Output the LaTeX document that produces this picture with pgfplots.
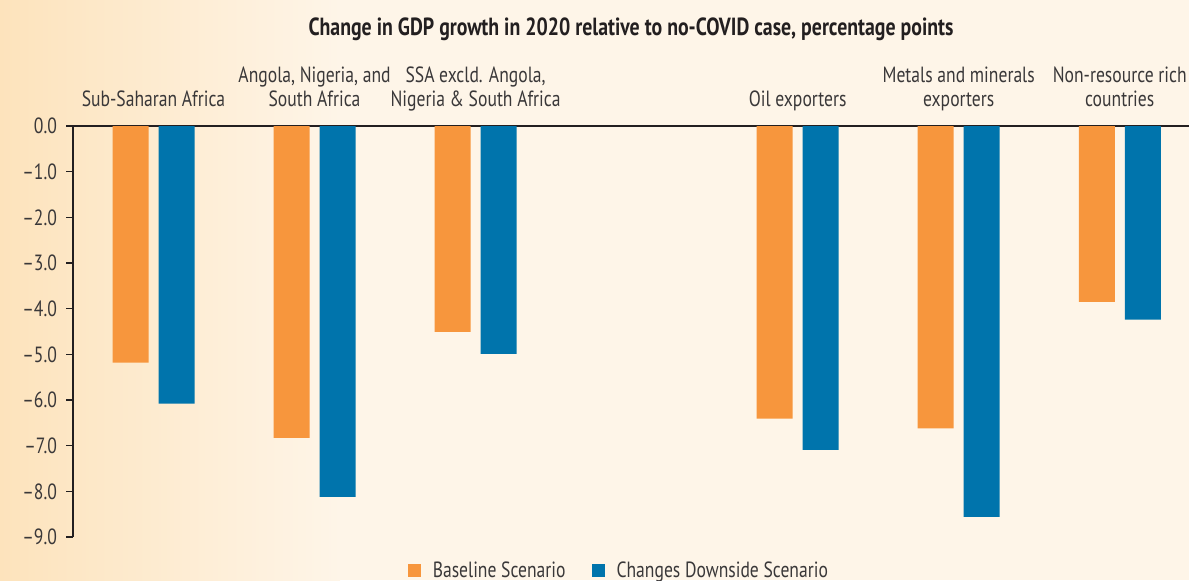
\documentclass[border=0pt]{standalone}
\usepackage{pgfplots}
\pgfplotsset{compat=1.18}
\usepackage{fontspec}
\setmainfont[FakeStretch=0.8]{PT Sans}

\definecolor{baseorange}{HTML}{F7963D}
\definecolor{downblue}{HTML}{0074AC}
\definecolor{bgcream}{HTML}{FEF5E8}
\definecolor{bgpeach}{HTML}{FDE3BC}
\definecolor{txtgray}{HTML}{3A3839}
\definecolor{axisdark}{HTML}{231F20}

\begin{document}
\begin{tikzpicture}
% background: 1 px of the reference = 0.5pt
\fill[bgcream] (0,0) rectangle (594.5pt,-290pt);
\shade[left color=bgpeach, right color=bgcream] (0,0) rectangle (170pt,-290pt);

\node[font=\bfseries\fontsize{12.4}{14}\selectfont, text=axisdark] at (315.5pt,-14.5pt)
  {Change in GDP growth in 2020 relative to no-COVID case, percentage points};

\begin{axis}[
  at={(36.5pt,-63pt)}, anchor=north west,
  scale only axis,
  width=558pt, height=205.5pt,
  xmin=-0.5, xmax=6.43,
  ymin=-9, ymax=0,
  ybar=5pt, bar width=18pt,
  axis y line*=left, axis x line*=top,
  axis line style={axisdark, line width=0.7pt},
  tick align=outside,
  major tick length=3.5pt,
  ytick={-9,-8,-7,-6,-5,-4,-3,-2,-1,0},
  yticklabels={–9.0,–8.0,–7.0,–6.0,–5.0,–4.0,–3.0,–2.0,–1.0,0.0},
  ytick style={axisdark, line width=0.7pt},
  yticklabel style={font=\fontsize{11}{12}\selectfont, text=txtgray, xshift=-1pt},
  xtick={0,1,2,4,5,6},
  xticklabels={
    Sub-Saharan Africa,
    {Angola, Nigeria, and\\South Africa},
    {SSA excld. Angola,\\Nigeria \& South Africa},
    Oil exporters,
    {Metals and minerals\\exporters},
    {Non-resource rich\\countries}},
  xtick style={draw=none},
  xticklabel style={font=\fontsize{11}{12}\selectfont, text=txtgray,
    align=center, anchor=south, inner sep=0pt, text depth=2.5pt, yshift=3.5pt},
  legend style={at={(axis description cs:0.49,0)}, anchor=north, yshift=-8pt,
    draw=none, fill=none, legend columns=2,
    font=\fontsize{11}{12}\selectfont, text=txtgray,
    /tikz/every odd column/.append style={column sep=4pt},
    /tikz/every even column/.append style={column sep=11pt}},
  legend cell align=left,
]
\addplot[fill=baseorange, draw=none,
  legend image code/.code={\fill[baseorange] (0pt,-3.25pt) rectangle (6.5pt,3.25pt);}]
  coordinates {(0,-5.18) (1,-6.83) (2,-4.51) (4,-6.41) (5,-6.62) (6,-3.85)};
\addplot[fill=downblue, draw=none,
  legend image code/.code={\fill[downblue] (0pt,-3.25pt) rectangle (6.5pt,3.25pt);}]
  coordinates {(0,-6.08) (1,-8.12) (2,-4.99) (4,-7.09) (5,-8.56) (6,-4.24)};
\legend{Baseline Scenario, Changes Downside Scenario}
\end{axis}

\pgfresetboundingbox
\useasboundingbox (0,0) rectangle (594.5pt,-290pt);
\end{tikzpicture}
\end{document}
